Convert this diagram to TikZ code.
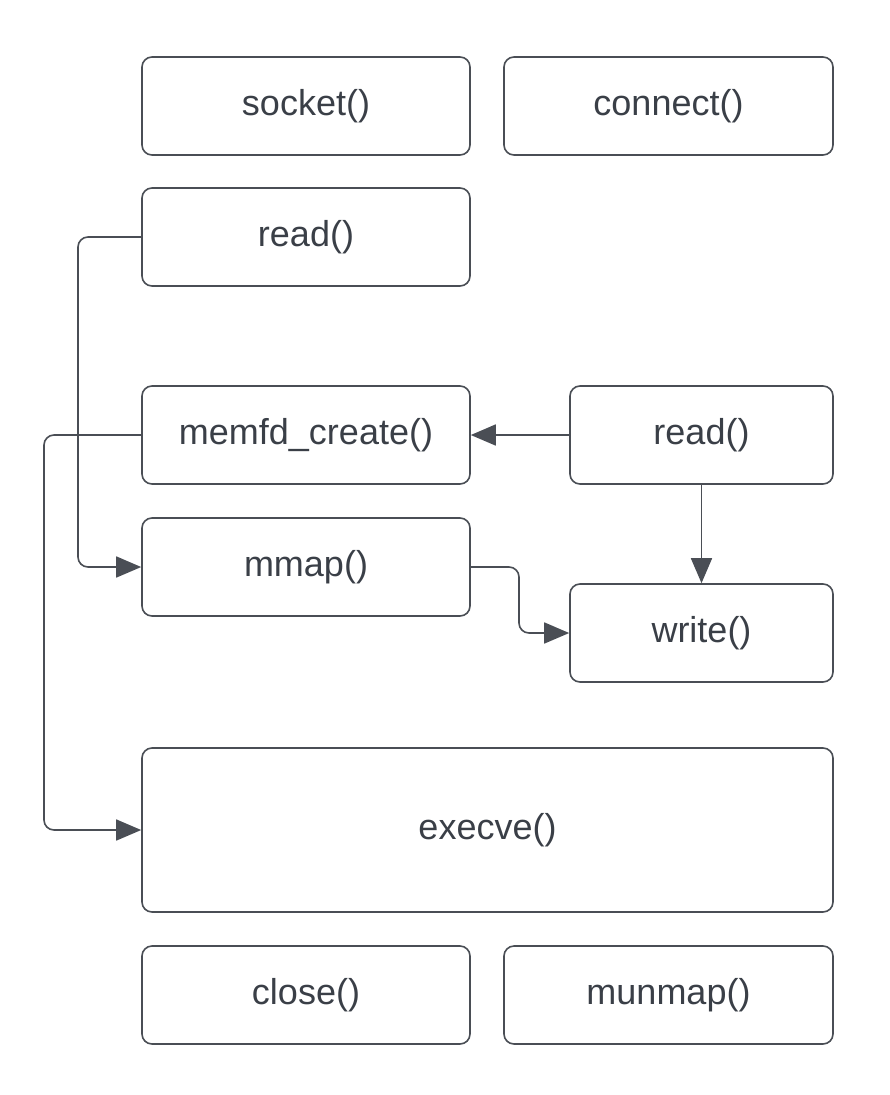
\documentclass[tikz,border=0pt]{standalone}
\usepackage{fontspec}
\setmainfont{Liberation Sans}
\usetikzlibrary{arrows.meta}
\definecolor{ink}{HTML}{3A3F47}
\definecolor{edge}{HTML}{4A4E55}
\begin{document}
\begin{tikzpicture}[x=1pt,y=-1pt,
  box/.style={draw=edge,line width=1.6pt,rounded corners=10pt,inner sep=0pt,
    text=ink,font=\fontsize{36}{40}\selectfont},
  conn/.style={draw=edge,line width=1.6pt,rounded corners=10pt,
    -{Triangle[length=25pt,width=21pt]}},
]
\useasboundingbox (0,0) rectangle (889,1095);
\node[box,minimum width=328pt,minimum height=98pt] (socket) at (306,106) {socket()};
\node[box,minimum width=329pt,minimum height=98pt] (connect) at (668.5,106) {connect()};
\node[box,minimum width=328pt,minimum height=98pt] (read1) at (306,237) {read()};
\node[box,minimum width=328pt,minimum height=98pt] (memfd) at (306,435) {memfd\_create()};
\node[box,minimum width=263pt,minimum height=98pt] (read2) at (701.5,435) {read()};
\node[box,minimum width=328pt,minimum height=98pt] (mmap) at (306,567) {mmap()};
\node[box,minimum width=263pt,minimum height=98pt] (write) at (701.5,633) {write()};
\node[box,minimum width=691pt,minimum height=164pt] (execve) at (487.5,830) {execve()};
\node[box,minimum width=328pt,minimum height=98pt] (close) at (306,995) {close()};
\node[box,minimum width=329pt,minimum height=98pt] (munmap) at (668.5,995) {munmap()};
\coordinate (c1) at (78,237);
\coordinate (c2) at (78,567);
\coordinate (d1) at (44,435);
\coordinate (d2) at (44,830);
\coordinate (m1) at (519,567);
\coordinate (m2) at (519,633);
\draw[conn] (read1.west) -- (c1) -- (c2) -- (mmap.west);
\draw[conn] (memfd.west) -- (d1) -- (d2) -- (execve.west);
\draw[conn] (read2.west) -- (memfd.east);
\draw[conn] (read2.south) -- (write.north);
\draw[conn] (mmap.east) -- (m1) -- (m2) -- (write.west);
\end{tikzpicture}
\end{document}
